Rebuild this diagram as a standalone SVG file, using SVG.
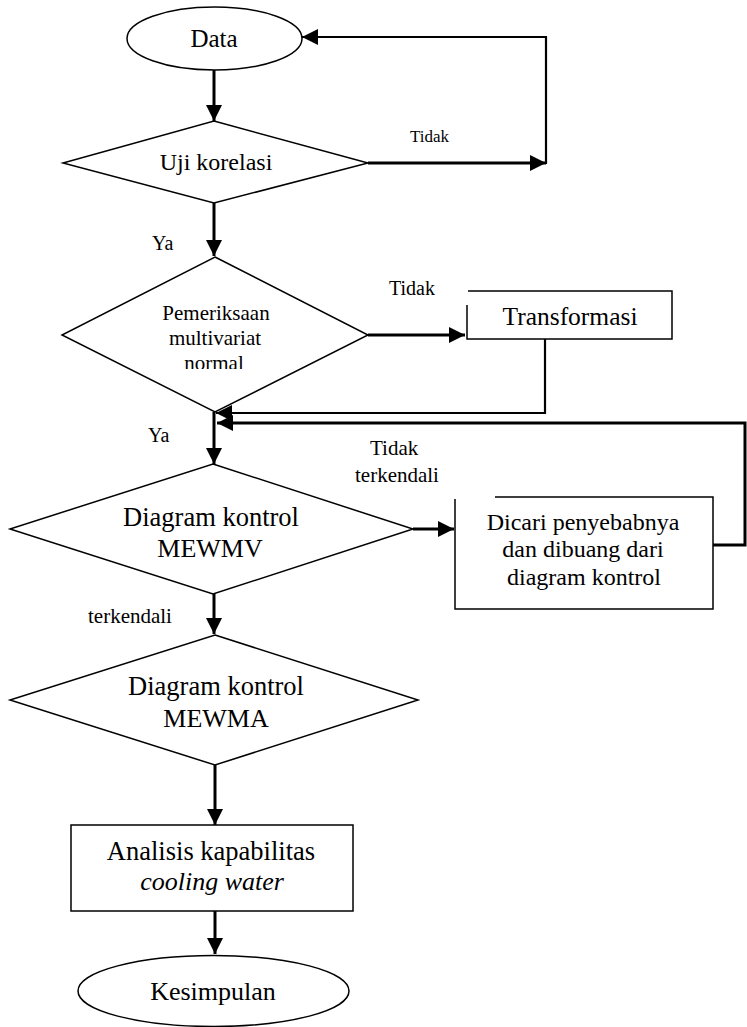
<svg xmlns="http://www.w3.org/2000/svg" width="747" height="1027" viewBox="0 0 747 1027">
<style>
.shape{fill:#fff;stroke:#000;stroke-width:1.5}
.edge{fill:none;stroke:#000;stroke-width:3}
.loop{fill:none;stroke:#000;stroke-width:2.2}
text{font-family:"Liberation Serif","Times New Roman",serif;fill:#000;text-anchor:middle}
.lbl{text-anchor:start}
</style>
<defs>
<marker id="ah" markerUnits="userSpaceOnUse" markerWidth="16" markerHeight="16" viewBox="0 0 16 16" refX="16" refY="8" orient="auto">
<path d="M0,0 L16,8 L0,16 z" fill="#000"/>
</marker>
<clipPath id="clipN"><rect x="0" y="0" width="747" height="369"/></clipPath>
</defs>
<rect width="747" height="1027" fill="#fff"/>
<g id="connectors">
<path class="edge" d="M214,70 V121" marker-end="url(#ah)"/>
<path class="edge" d="M368,163 H546" marker-end="url(#ah)"/>
<path class="loop" d="M546,164 V37 H302" marker-end="url(#ah)"/>
<path class="edge" d="M214,203 V256" marker-end="url(#ah)"/>
<path class="edge" d="M368,335 H465" marker-end="url(#ah)"/>
<path class="loop" d="M545,339 V413 H216" marker-end="url(#ah)"/>
<path class="edge" d="M214,412 V464" marker-end="url(#ah)"/>
<path class="edge" d="M713,545 H745 V423 H217" marker-end="url(#ah)"/>
<path class="edge" d="M413,529 H454" marker-end="url(#ah)"/>
<path class="edge" d="M214,594 V634" marker-end="url(#ah)"/>
<path class="edge" d="M215,765 V825" marker-end="url(#ah)"/>
<path class="edge" d="M215,911 V954" marker-end="url(#ah)"/>
</g>
<g id="labels">
<text class="lbl" x="410" y="142" font-size="17">Tidak</text>
<text class="lbl" x="152" y="250" font-size="20">Ya</text>
<text class="lbl" x="389" y="295" font-size="20">Tidak</text>
<text class="lbl" x="148" y="442" font-size="20">Ya</text>
<text class="lbl" x="370" y="455" font-size="21">Tidak</text>
<text class="lbl" x="355" y="482" font-size="21">terkendali</text>
<text class="lbl" x="88" y="623" font-size="21">terkendali</text>
</g>
<g id="data">
<ellipse class="shape" cx="214.5" cy="38.5" rx="87.5" ry="31.5"/>
<text x="214" y="47" font-size="25">Data</text>
</g>
<g id="uji-korelasi">
<polygon class="shape" points="214,121 368,163 214,203 63,163"/>
<text x="216" y="170" font-size="24">Uji korelasi</text>
</g>
<g id="pemeriksaan">
<polygon class="shape" points="215,257 368,335 215,412 62,335"/>
<text x="216" y="320" font-size="21">Pemeriksaan</text>
<text x="215" y="345" font-size="21">multivariat</text>
<g clip-path="url(#clipN)"><text x="214" y="370" font-size="21">normal</text></g>
</g>
<g id="transformasi">
<rect x="467" y="291" width="205" height="48" fill="#fff"/>
<path class="shape" d="M468,291 H672 V339 H467 V305"/>
<text x="570" y="325" font-size="25.5">Transformasi</text>
</g>
<g id="mewmv">
<polygon class="shape" points="213,464 413,529 213,594 10,529"/>
<text x="211" y="526" font-size="26.5">Diagram kontrol</text>
<text x="210" y="557" font-size="26">MEWMV</text>
</g>
<g id="dicari">
<rect x="455" y="497" width="258" height="112" fill="#fff"/>
<path class="shape" d="M495,497 H713 V609 H455 V499"/>
<text x="583" y="530" font-size="24">Dicari penyebabnya</text>
<text x="583" y="557" font-size="24">dan dibuang dari</text>
<text x="584" y="585" font-size="24">diagram kontrol</text>
</g>
<g id="mewma">
<polygon class="shape" points="215,635 418,700 215,765 10,700"/>
<text x="216" y="695" font-size="26.5">Diagram kontrol</text>
<text x="216" y="727" font-size="26">MEWMA</text>
</g>
<g id="analisis">
<rect class="shape" x="71" y="825" width="282" height="86"/>
<text x="211" y="860" font-size="26.5">Analisis kapabilitas</text>
<text x="212" y="890" font-size="26" font-style="italic">cooling water</text>
</g>
<g id="kesimpulan">
<ellipse class="shape" cx="213.5" cy="991" rx="135.5" ry="35.5"/>
<text x="213" y="1000" font-size="26">Kesimpulan</text>
</g>
</svg>
